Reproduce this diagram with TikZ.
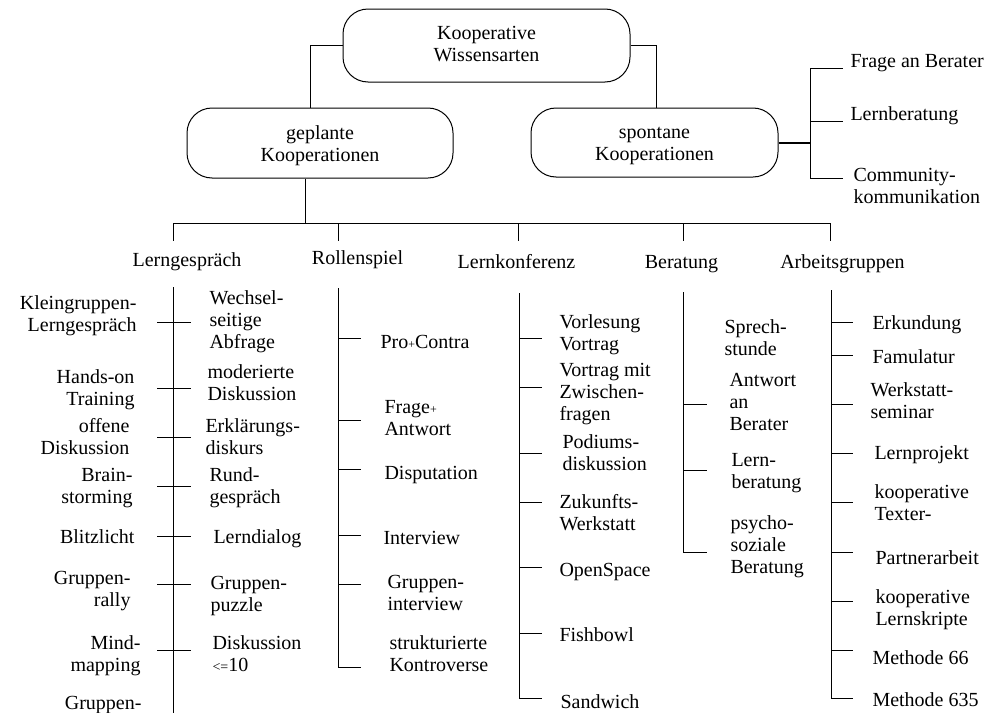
\documentclass[tikz,border=0pt]{standalone}
\usepackage{fontspec}
\setmainfont{Liberation Serif}
\newcommand{\Lt}[1]{\begin{tabular}[t]{@{}l@{}}#1\end{tabular}}
\newcommand{\Rt}[1]{\begin{tabular}[t]{@{}r@{}}#1\end{tabular}}
\newcommand{\Ct}[1]{\begin{tabular}[t]{@{}c@{}}#1\end{tabular}}
\newcommand{\smplus}{{\fontsize{12}{12}\selectfont+}}
\begin{document}
\begin{tikzpicture}[x=1pt,y=-1pt,line width=1pt,
  font=\fontsize{20}{22}\selectfont,
  lt/.style={anchor=base west,inner sep=0pt},
  rt/.style={anchor=base east,inner sep=0pt},
  ct/.style={anchor=base,inner sep=0pt},
  roundbox/.style={draw,rounded corners=25pt,inner sep=0pt}]
\useasboundingbox (0,0) rectangle (1006,712);
% main boxes
\node[roundbox,minimum width=287pt,minimum height=73pt] (top) at (486.5,45.5) {};
\node[ct] (toptxt) at (486.5,39) {\Ct{Kooperative\\Wissensarten}};
\node[roundbox,minimum width=266pt,minimum height=70pt] (geplante) at (320,143) {};
\node[ct] (geptxt) at (320,139) {\Ct{geplante\\Kooperationen}};
\node[roundbox,minimum width=247pt,minimum height=69pt] (spontane) at (654.5,142.5) {};
\node[ct] (spotxt) at (654.5,138) {\Ct{spontane\\Kooperationen}};
\draw (top.west) -| ([xshift=-10pt]geplante.north);
\draw (top.east) -| ([xshift=1.5pt]spontane.north);
% spontane branches
\coordinate (sj) at (810,142.5);
\coordinate (s1) at (810,68);
\coordinate (s2) at (810,121);
\coordinate (s3) at (810,178);
\draw[line width=2pt] (spontane.east) -- (sj);
\draw (s1) -- (s3);
\foreach \c in {s1,s2,s3} \draw (\c) -- ++(33,0);
\node[lt] (fab) at (850,67) {Frage an Berater};
\node[lt] (lb) at (850,120) {Lernberatung};
\node[lt] (ck) at (853,181) {\Lt{Community-\\kommunikation}};
% bus
\coordinate (g0) at (305,223);
\coordinate (b1) at (173,223);
\coordinate (b2) at (338,223);
\coordinate (b3) at (518,223);
\coordinate (b4) at (683,223);
\coordinate (b5) at (830,223);
\draw ([xshift=-15pt]geplante.south) -- (g0);
\draw (b1) -- (b5);
\foreach \c in {b1,b2,b3,b4,b5} \draw (\c) -- ++(0,18);
\node[ct] (lg) at (187,266) {Lerngespräch};
\node[ct] (rs) at (357.5,264) {Rollenspiel};
\node[ct] (lk) at (516.5,268) {Lernkonferenz};
\node[ct] (be) at (681.5,268) {Beratung};
\node[ct] (ag) at (842.5,268) {Arbeitsgruppen};
% column 1
\coordinate (c1t) at (173,287);
\coordinate (c1b) at (173,715);
\draw (c1t) -- (c1b);
\foreach \y in {322,388,437,486,536,584,650} \draw (157,\y) -- (191,\y);
\node[rt] at (137,309) {\Rt{Kleingruppen-\\Lerngespräch}};
\node[rt] at (135,383) {\Rt{Hands-on\\Training}};
\node[rt] at (130,432) {\Rt{offene\\Diskussion}};
\node[rt] at (133,481) {\Rt{Brain-\\storming}};
\node[rt] at (135,543) {Blitzlicht};
\node[rt] at (131,584) {\Rt{Gruppen-\\rally}};
\node[rt] at (141,649) {\Rt{Mind-\\mapping}};
\node[rt] at (142,709) {\Rt{Gruppen-\\ }};
\node[lt] at (209,304) {\Lt{Wechsel-\\seitige\\Abfrage}};
\node[lt] at (207,378) {\Lt{moderierte\\Diskussion}};
\node[lt] at (205,432) {\Lt{Erklärungs-\\diskurs}};
\node[lt] at (209,481) {\Lt{Rund-\\gespräch}};
\node[lt] at (213,543) {Lerndialog};
\node[lt] at (210,589) {\Lt{Gruppen-\\puzzle}};
\node[lt] at (212,649) {\Lt{Diskussion\\{\fontsize{14}{14}\selectfont<=}10}};
% column 2
\coordinate (c2t) at (338,288);
\coordinate (c2b) at (338,667);
\draw (c2t) -- (c2b) -- ++(23,0);
\foreach \y in {338,420,469,535,584} \draw (338,\y) -- (361,\y);
\node[lt] at (380,348) {Pro\smplus Contra};
\node[lt] at (384,413) {\Lt{Frage\smplus\\Antwort}};
\node[lt] at (384,479) {Disputation};
\node[lt] at (383,544) {Interview};
\node[lt] at (387,588) {\Lt{Gruppen-\\interview}};
\node[lt] at (389,649) {\Lt{strukturierte\\Kontroverse}};
% column 3
\coordinate (c3t) at (519,293);
\coordinate (c3b) at (519,698);
\draw (c3t) -- (c3b) -- ++(23,0);
\foreach \y in {338,387,453,502,567,633} \draw (519,\y) -- (542,\y);
\node[lt] at (559,328) {\Lt{Vorlesung\\Vortrag}};
\node[lt] at (559,376) {\Lt{Vortrag mit\\Zwischen-\\fragen}};
\node[lt] at (562,448) {\Lt{Podiums-\\diskussion}};
\node[lt] at (559,508) {\Lt{Zukunfts-\\Werkstatt}};
\node[lt] at (559,576) {OpenSpace};
\node[lt] at (559,641) {Fishbowl};
\node[lt] at (560,708) {Sandwich};
% column 4
\coordinate (c4t) at (683,292);
\coordinate (c4b) at (683,552);
\draw (c4t) -- (c4b) -- ++(24,0);
\foreach \y in {404,470} \draw (683,\y) -- (707,\y);
\node[lt] at (724,333) {\Lt{Sprech-\\stunde}};
\node[lt] at (729,386) {\Lt{Antwort\\an\\Berater}};
\node[lt] at (731,466) {\Lt{Lern-\\beratung}};
\node[lt] at (730,529) {\Lt{psycho-\\soziale\\Beratung}};
% column 5
\coordinate (c5t) at (831,290);
\coordinate (c5b) at (831,698);
\draw (c5t) -- (c5b) -- ++(22,0);
\foreach \y in {322,355,404,453,502,552,601,650} \draw (831,\y) -- (853,\y);
\node[lt] at (872,329) {Erkundung};
\node[lt] at (872,363) {Famulatur};
\node[lt] at (870,396) {\Lt{Werkstatt-\\seminar}};
\node[lt] at (874,459) {Lernprojekt};
\node[lt] at (874,498) {\Lt{kooperative\\Texter-}};
\node[lt] at (875,564) {Partnerarbeit};
\node[lt] at (875,603) {\Lt{kooperative\\Lernskripte}};
\node[lt] at (872,664) {Methode 66};
\node[lt] at (872,706) {Methode 635};
\end{tikzpicture}
\end{document}
